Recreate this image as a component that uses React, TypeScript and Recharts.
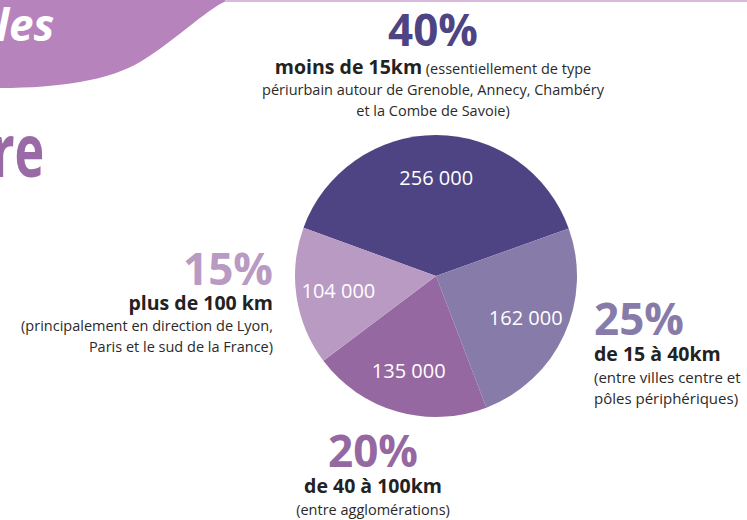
import React from 'react';
import { PieChart, Pie, Cell } from 'recharts';

const categories = ['moins de 15km', 'de 15 à 40km', 'de 40 à 100km', 'plus de 100 km'];
const values = [256000, 162000, 135000, 104000];
const shares = ['40%', '25%', '20%', '15%'];
const colors = ['#4e4483', '#877ca9', '#9668a1', '#b99ac3'];

const data = categories.map((name, i) => ({ name, value: values[i] }));

const fmt = (v: number) => v.toLocaleString('fr-FR').replace(/\s/g, ' ');

const RAD = Math.PI / 180;

const renderLabel = (props: any) => {
  const { cx, cy, midAngle, outerRadius, value } = props;
  const r = outerRadius * 0.7;
  const x = cx + r * Math.cos(-midAngle * RAD);
  const y = cy + r * Math.sin(-midAngle * RAD);
  return (
    <text x={x} y={y} fill="#fff" textAnchor="middle" dominantBaseline="central"
      style={{ fontFamily: 'Open Sans', fontSize: 20 }}>
      {fmt(value)}
    </text>
  );
};

const font = "'Open Sans', sans-serif";
const big = { fontFamily: font, fontWeight: 700, fontSize: 44, lineHeight: '46px' } as const;
const bold = { fontFamily: font, fontWeight: 700, fontSize: 19.5, color: '#222' } as const;
const small = { fontFamily: font, fontSize: 14.5, color: '#2a2a2a', lineHeight: '21px' } as const;

const App = () => {
  return (
    <div style={{ position: 'absolute', left: 0, top: 0, width: 747, height: 520, overflow: 'hidden', background: '#fff' }}>
      {/* décor: bandeau du haut */}
      <svg width={747} height={520} style={{ position: 'absolute', left: 0, top: 0 }}>
        <path d="M0 0 L228 0 C205 10 170 45 140 62 C110 80 60 88 0 88 Z" fill="#b783bc" />
        <line x1={225} y1={1} x2={747} y2={1} stroke="#d9b9dc" strokeWidth={2} />
      </svg>
      <div style={{ position: 'absolute', left: -4, top: -6, fontFamily: font, fontStyle: 'italic', fontWeight: 700, fontSize: 44, color: '#fff' }}>les</div>
      <div style={{ position: 'absolute', right: 703, top: 98, fontFamily: font, fontWeight: 700, fontSize: 74, color: '#9a6aa6', transform: 'scaleX(0.68)', transformOrigin: 'right center' }}>re</div>

      <PieChart width={747} height={520} margin={{ top: 0, right: 0, bottom: 0, left: 0 }}
        style={{ position: 'absolute', left: 0, top: 0 }}>
        <Pie data={data} dataKey="value" cx={436} cy={276} outerRadius={141}
          startAngle={160} endAngle={-200} stroke="none" label={renderLabel} labelLine={false}
          isAnimationActive={false}>
          {data.map((d, i) => <Cell key={d.name} fill={colors[i]} />)}
        </Pie>
      </PieChart>

      {/* 40% */}
      <div style={{ position: 'absolute', left: 233, top: 6, width: 400, textAlign: 'center' }}>
        <div style={{ ...big, color: colors[0] }}>{shares[0]}</div>
        <div style={{ ...small, marginTop: 4 }}>
          <span style={bold}>{categories[0]}</span> (essentiellement de type<br />
          périurbain autour de Grenoble, Annecy, Chambéry<br />
          et la Combe de Savoie)
        </div>
      </div>

      {/* 15% */}
      <div style={{ position: 'absolute', left: 0, top: 245, width: 273, textAlign: 'right' }}>
        <div style={{ ...big, color: colors[3] }}>{shares[3]}</div>
        <div style={{ ...bold, lineHeight: '24px' }}>{categories[3]}</div>
        <div style={small}>(principalement en direction de Lyon,<br />Paris et le sud de la France)</div>
      </div>

      {/* 25% */}
      <div style={{ position: 'absolute', left: 594, top: 295, width: 160, textAlign: 'left' }}>
        <div style={{ ...big, color: colors[1] }}>{shares[1]}</div>
        <div style={{ ...bold, lineHeight: '26px' }}>{categories[1]}</div>
        <div style={{ ...small, fontSize: 15 }}>(entre villes centre et<br />pôles périphériques)</div>
      </div>

      {/* 20% */}
      <div style={{ position: 'absolute', left: 223, top: 427, width: 300, textAlign: 'center' }}>
        <div style={{ ...big, color: colors[2] }}>{shares[2]}</div>
        <div style={{ ...bold, lineHeight: '26px' }}>{categories[2]}</div>
        <div style={small}>(entre agglomérations)</div>
      </div>
    </div>
  );
};

export default App;
